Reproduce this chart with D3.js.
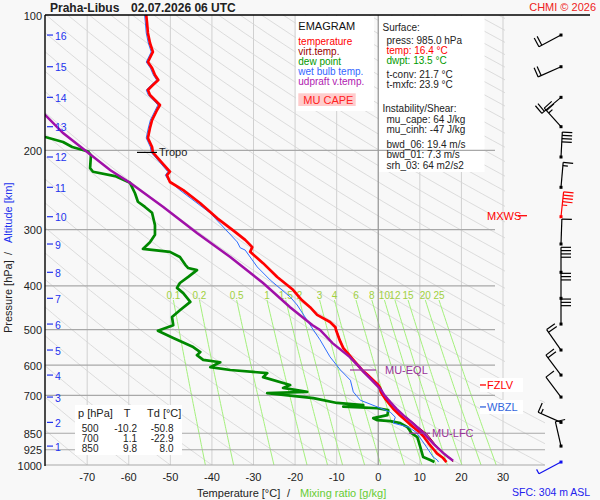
<!DOCTYPE html>
<html>
<head>
<meta charset="utf-8">
<script src="https://cdn.jsdelivr.net/npm/d3@7"></script>
<style>
body { margin: 0; background: #f8f8f8; }
svg { display: block; font-family: Arial, "Liberation Sans", sans-serif; }
</style>
</head>
<body>
<svg id="emagram" width="600" height="500"></svg>
<script>
// sounding Praha-Libus 02.07.2026 06 UTC
var tempP = [985, 965, 942, 925, 895, 862, 850, 822, 800, 775, 750, 736, 715, 700, 688, 675, 664, 648, 630, 615,
             600, 584, 565, 550, 530, 509, 500, 494, 481, 464, 446, 428, 408, 382, 356, 336, 328, 316, 301, 283,
             262, 245, 235, 227, 223, 212, 202, 196.5, 187.7, 178.3, 171.2, 162.6, 158.5, 154.5, 150.6, 146.8, 143.1, 139.5, 135.9, 131.2,
             127.2, 120.8, 115.4, 109.6, 104.2, 100];
var tempT = [16.4, 15.6, 14.1, 13.4, 12.1, 10.8, 10.2, 8.3, 6.9, 5.2, 3.6, 2.9, 1.8, 1.1, 0.6, 0.4, 0.0, -1.2, -2.6, -3.9,
             -4.9, -6.0, -7.3, -8.4, -9.2, -9.9, -10.2, -10.3, -11.6, -14.7, -16.4, -18.6, -20.5, -24.3, -27.7, -30.8, -30.3, -32.0, -34.9, -38.7,
             -42.8, -46.9, -50.1, -50.8, -50.1, -52.2, -54.2, -54.4, -55.4, -54.9, -54.4, -53.2, -52.5, -53.7, -54.9, -55.4, -54.2, -52.9, -53.7, -54.4,
             -55.4, -54.2, -54.9, -55.4, -55.6, -55.8];

var virtP = [985, 965, 942, 925, 895, 862, 850, 822, 800, 775, 750, 736, 715, 700, 688, 675, 664, 648, 630, 615,
             600, 584, 565, 550, 530, 509, 500, 494, 481, 464, 446, 428, 408];
var virtT = [18.0, 17.4, 15.6, 14.8, 13.5, 12.1, 11.5, 9.5, 8.0, 6.1, 4.4, 3.6, 2.4, 1.6, 1.0, 0.7, 0.2, -1.0, -2.4, -3.8,
             -4.8, -5.9, -7.2, -8.3, -9.1, -9.8, -10.1, -10.2, -11.5, -14.6, -16.3, -18.5, -20.4];

var dewP = [985, 975, 960, 912, 867, 850, 836, 824, 807, 799, 795, 787, 775, 755, 748, 745, 742, 736, 728, 710,
            692, 688, 674, 664, 638, 625, 615, 606, 591, 584, 570, 561, 547, 522, 503, 489, 469, 453, 434, 415,
            404, 394, 382, 369, 365, 359, 345, 336, 331, 320, 308, 293, 275, 267, 260, 249, 236, 228, 223, 219,
            205, 201, 196.5, 191.5, 186.7, 180];
var dewT = [13.5, 12.5, 10.8, 10.1, 9.4, 8.0, 7.5, 7.0, 5.3, 2.9, -0.2, -1.2, 2.2, 2.4, -0.2, -4.3, -8.4, -3.6, -9.9, -15.6,
            -26.7, -17.1, -22.9, -21.2, -27.7, -26.7, -35.6, -40.4, -38.0, -42.1, -43.6, -42.8, -44.5, -49.3, -53.0, -49.3, -49.6, -47.7, -45.2, -46.9,
            -48.4, -47.7, -45.7, -43.6, -45.7, -46.4, -47.7, -50.1, -56.6, -54.9, -53.7, -53.7, -54.4, -56.1, -57.8, -58.5, -59.7, -63.3, -68.6, -69.3,
            -69.1, -69.8, -73.6, -75.8, -80.1, -85];

var wetP = [985, 975, 960, 912, 847, 824, 807, 783, 763, 743, 718, 688, 648, 615, 575, 527, 501, 441, 423, 388,
            363, 333, 329, 319.5, 275.5, 245, 232.7, 227, 223, 202, 196.5, 187.7, 178.3, 171.2, 162.6, 158.5, 154.5, 150.6, 146.8, 143.1,
            139.5, 135.9, 131.2, 127.2, 120.8, 115.4, 109.6, 104.2, 100];
var wetT = [14.5, 14.2, 13.2, 11.6, 9.2, 7.3, 3.6, 4.1, 2.9, -0.2, -4.3, -6.0, -6.7, -9.1, -11.6, -14.0, -15.6, -19.5, -21.2, -26.0,
            -29.1, -32.0, -33.2, -33.9, -40.4, -47.7, -50.5, -51.2, -50.6, -54.6, -54.8, -55.8, -55.3, -54.8, -53.6, -53.0, -54.1, -55.3, -55.8, -54.6,
            -53.3, -54.1, -54.8, -55.8, -54.6, -55.3, -55.8, -56.0, -56.2];

// most unstable parcel (updraft virtual temperature)
var parcelP = [978, 960, 940, 900, 867, 850, 820, 800, 775, 750, 725, 700, 681, 660, 640, 620, 606, 575, 536, 501,
               489, 446, 394, 345, 305, 267, 236, 221, 201.6, 183, 166.8, 160];
var parcelT = [18.0, 16.8, 15.6, 13.4, 11.8, 10.9, 9.1, 7.8, 6.0, 4.4, 2.9, 1.5, 0.7, -0.7, -2.1, -3.6, -4.5, -6.9, -11.0, -14.0,
               -15.8, -21.2, -27.7, -35.6, -43.6, -51.7, -59.7, -64.5, -70.0, -75.8, -80.1, -83];

var isobars = [200, 300, 400, 500, 600, 700, 850, 925, 1000];
var pressureLabels = [100, 200, 300, 400, 500, 600, 700, 850, 925, 1000];
var tempTicks = [-70, -60, -50, -40, -30, -20, -10, 0, 10, 20, 30];
var mixRatios = [0.1, 0.2, 0.5, 1, 1.5, 2, 3, 4, 6, 8, 10, 12, 15, 20, 25];

// altitude marks (km) and their pressure, winds are given at the same levels
var altKm = [16, 15, 14, 13, 12, 11, 10, 9, 8, 7, 6, 5, 4, 3, 2, 1];
var altP = [110.8, 130.3, 152.4, 177.1, 206.8, 241.5, 280.7, 322.8, 373.1, 426.2, 486.2, 555.3, 631.2, 706.4, 804.1, 907.8];
var windDir = [242, 246, 230, 318, 3, 5, 6, 2, 0, 0, 0, 325, 323, 323, 294, 347];
var windSpd = [20, 20, 20, 25, 40, 15, 45, 10, 40, 30, 30, 20, 20, 10, 15, 10];
var maxWindKm = 10;
var sfcP = 985, sfcDir = 242, sfcSpd = 5;

var tropoP = 202, eqlP = 615, lfcP = 850, fzlvP = 664, wbzlP = 743;

var tableP = ["500", "700", "850"];
var tableT = ["-10.2", "1.1", "9.8"];
var tableTd = ["-50.8", "-22.9", "8.0"];

var surfaceLines = [
    {t: "Surface:", dx: 0, y: 30.7, c: "#222"},
    {t: "press: 985.0 hPa", dx: 4, y: 43.5, c: "#222"},
    {t: "temp: 16.4 °C", dx: 4, y: 53.5, c: "#ff0000"},
    {t: "dwpt: 13.5 °C", dx: 4, y: 63.5, c: "#009900"},
    {t: "t-conv: 21.7 °C", dx: 4, y: 77.5, c: "#222"},
    {t: "t-mxfc: 23.9 °C", dx: 4, y: 87.7, c: "#222"},
    {t: "Instability/Shear:", dx: 0, y: 111.7, c: "#222"},
    {t: "mu_cape: 64 J/kg", dx: 4, y: 123.3, c: "#222"},
    {t: "mu_cinh: -47 J/kg", dx: 4, y: 133.3, c: "#222"},
    {t: "bwd_06: 19.4 m/s", dx: 4, y: 148, c: "#222"},
    {t: "bwd_01: 7.3 m/s", dx: 4, y: 158, c: "#222"},
    {t: "srh_03: 64 m2/s2", dx: 4, y: 168.5, c: "#222"}
];
var legendItems = [
    {t: "temperature", c: "#ff0000"},
    {t: "virt.temp.", c: "#990000"},
    {t: "dew point", c: "#009900"},
    {t: "wet bulb temp.", c: "#3366ff"},
    {t: "udpraft v.temp.", c: "#b020b0"}
];

var svg = d3.select("#emagram");
var x = d3.scaleLinear().domain([-80, 30]).range([45.6, 503]);
var y = d3.scaleLog().domain([100, 1000]).range([15, 465]);

function pairs(P, V) {
    return P.map(function(p, i) { return [p, V[i]]; });
}
function interpAt(P, V, p) {
    for (var i = 0; i < P.length - 1; i++) {
        if (P[i] >= p && P[i + 1] <= p) {
            var f = (Math.log(P[i]) - Math.log(p)) / (Math.log(P[i]) - Math.log(P[i + 1]));
            return V[i] + f * (V[i + 1] - V[i]);
        }
    }
    return V[V.length - 1];
}
function mixT(w, p) {
    var e = w * p / (622 + w), l = Math.log(e / 6.112);
    return 243.5 * l / (17.67 - l);
}

var line = d3.line()
    .x(function(d) { return x(d[1]); })
    .y(function(d) { return y(d[0]); });

var defs = svg.append("defs");
defs.append("clipPath").attr("id", "plotClip")
    .append("rect").attr("x", 45).attr("y", 15).attr("width", 460).attr("height", 450);
var gridClip = defs.append("clipPath").attr("id", "gridClip");
gridClip.append("rect").attr("x", 45).attr("y", 15).attr("width", 460).attr("height", 450);
gridClip.append("rect").attr("x", 505).attr("y", 400).attr("width", 40).attr("height", 65);

svg.append("rect").attr("width", 600).attr("height", 500).attr("fill", "#f8f8f8");

// background grid: isotherms, dry adiabats, mixing ratio
var grid = svg.append("g").attr("clip-path", "url(#gridClip)");

grid.selectAll(".isotherm")
    .data(tempTicks.filter(function(t) { return t !== 0; }))
    .enter().append("line")
    .attr("x1", function(d) { return x(d); })
    .attr("x2", function(d) { return x(d); })
    .attr("y1", 15).attr("y2", 465)
    .attr("stroke", "#d0d0d0").attr("stroke-width", 1);

var pLevels = d3.range(100, 1001, 10);
grid.selectAll(".adiabat")
    .data(d3.range(-80, 331, 10))
    .enter().append("path")
    .attr("d", function(th) {
        return line(pLevels.map(function(p) {
            return [p, (th + 273.15) * Math.pow(p / 1000, 0.2857) - 273.15];
        }));
    })
    .attr("fill", "none").attr("stroke", "#d4d4d4").attr("stroke-width", 0.8);

var mixLevels = d3.range(430, 1001, 10);
grid.selectAll(".mixing")
    .data(mixRatios)
    .enter().append("path")
    .attr("d", function(w) {
        return line(mixLevels.map(function(p) { return [p, mixT(w, p)]; }));
    })
    .attr("fill", "none").attr("stroke", "#a4f07c").attr("stroke-width", 1);

svg.selectAll(".mixlabel")
    .data(mixRatios)
    .enter().append("text")
    .attr("x", function(w) { return x(mixT(w, 430)); })
    .attr("y", 298.7)
    .attr("text-anchor", "middle")
    .attr("font-size", "10px")
    .attr("fill", "#a0d040")
    .text(function(w) { return w; });

// info boxes
svg.append("rect").attr("x", 296).attr("y", 16).attr("width", 78).attr("height", 95).attr("fill", "#ffffff");
svg.append("rect").attr("x", 378.5).attr("y", 16).attr("width", 106).attr("height", 156).attr("fill", "#ffffff");

// isobars
svg.selectAll(".isobar")
    .data(isobars)
    .enter().append("line")
    .attr("x1", 45)
    .attr("x2", function(d) { return d >= 850 ? 545 : 495; })
    .attr("y1", function(d) { return y(d); })
    .attr("y2", function(d) { return y(d); })
    .attr("stroke", "#a8a8a8").attr("stroke-width", 1.2);

svg.append("line")
    .attr("x1", x(0)).attr("x2", x(0)).attr("y1", 15).attr("y2", 465)
    .attr("stroke", "#999").attr("stroke-width", 1.3);

// table box
var table = svg.append("g");
table.append("rect").attr("x", 75).attr("y", 405).attr("width", 107).attr("height", 50).attr("fill", "#ffffff");
table.append("text").attr("x", 78).attr("y", 417.3).attr("font-size", "11px").attr("fill", "#222").text("p [hPa]");
table.append("text").attr("x", 127).attr("y", 417.3).attr("font-size", "11px").attr("fill", "#222").attr("text-anchor", "middle").text("T");
table.append("text").attr("x", 147).attr("y", 417.3).attr("font-size", "11px").attr("fill", "#222").text("Td [°C]");
tableP.forEach(function(p, i) {
    var ty = 431.7 + i * 10;
    table.append("text").attr("x", 98.5).attr("y", ty).attr("text-anchor", "end").attr("font-size", "10px").attr("fill", "#222").text(p);
    table.append("text").attr("x", 137).attr("y", ty).attr("text-anchor", "end").attr("font-size", "10px").attr("fill", "#222").text(tableT[i]);
    table.append("text").attr("x", 173.5).attr("y", ty).attr("text-anchor", "end").attr("font-size", "10px").attr("fill", "#222").text(tableTd[i]);
});

// curves
var curves = svg.append("g").attr("clip-path", "url(#plotClip)");

// MU CAPE area between parcel and environment
var capeLevels = d3.range(lfcP, eqlP - 1, -3);
var area = d3.area()
    .y(function(p) { return y(p); })
    .x0(function(p) { return x(interpAt(tempP, tempT, p)); })
    .x1(function(p) { return x(Math.max(interpAt(tempP, tempT, p), interpAt(parcelP, parcelT, p))); });
curves.append("path").attr("d", area(capeLevels)).attr("fill", "#f4b8a8").attr("opacity", 0.7);

curves.append("path").attr("d", line(pairs(virtP, virtT)))
    .attr("fill", "none").attr("stroke", "#990000").attr("stroke-width", 1);
curves.append("path").attr("d", line(pairs(dewP, dewT)))
    .attr("fill", "none").attr("stroke", "#008800").attr("stroke-width", 2.7).attr("stroke-linejoin", "round");
curves.append("path").attr("d", line(pairs(wetP, wetT)))
    .attr("fill", "none").attr("stroke", "#2f6fff").attr("stroke-width", 1);
curves.append("path").attr("d", line(pairs(tempP, tempT)))
    .attr("fill", "none").attr("stroke", "#ff0000").attr("stroke-width", 2.7).attr("stroke-linejoin", "round");
curves.append("path").attr("d", line(pairs(parcelP, parcelT)))
    .attr("fill", "none").attr("stroke", "#a010a8").attr("stroke-width", 2.5);

// level markers
svg.append("line").attr("x1", 137).attr("x2", 157).attr("y1", y(tropoP)).attr("y2", y(tropoP))
    .attr("stroke", "#000").attr("stroke-width", 1.2);
svg.append("text").attr("x", 159).attr("y", y(tropoP) + 4).attr("font-size", "11px").attr("fill", "#222").text("Tropo");

svg.append("line").attr("x1", 350).attr("x2", 376).attr("y1", y(eqlP)).attr("y2", y(eqlP))
    .attr("stroke", "#993399").attr("stroke-width", 1.2);
svg.append("text").attr("x", 385).attr("y", y(eqlP) + 4).attr("font-size", "11px").attr("fill", "#993399").text("MU-EQL");
svg.append("line").attr("x1", 409).attr("x2", 430).attr("y1", y(lfcP)).attr("y2", y(lfcP))
    .attr("stroke", "#993399").attr("stroke-width", 1.2);
svg.append("text").attr("x", 432).attr("y", y(lfcP) + 4).attr("font-size", "11px").attr("fill", "#993399").text("MU-LFC");

[{p: fzlvP, t: "FZLV", c: "#ff0000"}, {p: wbzlP, t: "WBZL", c: "#3366dd"}].forEach(function(m) {
    var my = y(m.p);
    svg.append("rect").attr("x", 480).attr("y", my - 7).attr("width", 43).attr("height", 14).attr("fill", "#ffffff");
    svg.append("line").attr("x1", 480).attr("x2", 486).attr("y1", my).attr("y2", my).attr("stroke", m.c).attr("stroke-width", 1.3);
    svg.append("text").attr("x", 487).attr("y", my + 4).attr("font-size", "11px").attr("fill", m.c).text(m.t);
});

var mxY = y(altP[altKm.indexOf(maxWindKm)]);
svg.append("text").attr("x", 487).attr("y", mxY + 3).attr("font-size", "11px").attr("fill", "#ff0000").text("MXWS");
svg.append("line").attr("x1", 518).attr("x2", 527).attr("y1", mxY - 1).attr("y2", mxY - 1).attr("stroke", "#ff0000").attr("stroke-width", 1.3);

// frame
svg.append("line").attr("x1", 45).attr("x2", 590).attr("y1", 15).attr("y2", 15).attr("stroke", "#000").attr("stroke-width", 1.4);
svg.append("line").attr("x1", 45).attr("x2", 45).attr("y1", 15).attr("y2", 466).attr("stroke", "#000").attr("stroke-width", 1.4);

// axes labels
svg.selectAll(".plabel")
    .data(pressureLabels)
    .enter().append("text")
    .attr("x", 42).attr("y", function(d) { return y(d) + 4.5; })
    .attr("text-anchor", "end").attr("font-size", "11px").attr("fill", "#222")
    .text(function(d) { return d; });

svg.selectAll(".alttick")
    .data(altP)
    .enter().append("line")
    .attr("x1", 47).attr("x2", 53)
    .attr("y1", function(d) { return y(d); })
    .attr("y2", function(d) { return y(d); })
    .attr("stroke", "#2233ee").attr("stroke-width", 1.2);
svg.selectAll(".altlabel")
    .data(altKm)
    .enter().append("text")
    .attr("x", 55).attr("y", function(d, i) { return y(altP[i]) + 4.5; })
    .attr("font-size", "10.5px").attr("fill", "#2233ee")
    .text(function(d) { return d; });

svg.selectAll(".tlabel")
    .data(tempTicks)
    .enter().append("text")
    .attr("x", function(d) { return x(d); }).attr("y", 480.5)
    .attr("text-anchor", "middle").attr("font-size", "11px").attr("fill", "#222")
    .text(function(d) { return d; });

svg.append("text").attr("x", 197).attr("y", 497).attr("font-size", "11px").attr("fill", "#222").text("Temperature [°C]");
svg.append("text").attr("x", 287).attr("y", 497).attr("font-size", "11px").attr("fill", "#222").text("/");
svg.append("text").attr("x", 300).attr("y", 497).attr("font-size", "11px").attr("fill", "#66cc33").text("Mixing ratio [g/kg]");

svg.append("text").attr("transform", "translate(12,333) rotate(-90)").attr("font-size", "11px").attr("fill", "#222").text("Pressure [hPa]");
svg.append("text").attr("transform", "translate(12,255) rotate(-90)").attr("font-size", "11px").attr("fill", "#222").text("/");
svg.append("text").attr("transform", "translate(12,243) rotate(-90)").attr("font-size", "11px").attr("fill", "#2233ee").text("Altitude [km]");

// title
svg.append("text").attr("x", 50).attr("y", 11.7).attr("font-size", "12px").attr("font-weight", "bold").attr("fill", "#222").text("Praha-Libus");
svg.append("text").attr("x", 131).attr("y", 11.7).attr("font-size", "12px").attr("font-weight", "bold").attr("fill", "#222").text("02.07.2026 06 UTC");
svg.append("text").attr("x", 596).attr("y", 10.5).attr("text-anchor", "end").attr("font-size", "11px").attr("fill", "#ee2222").text("CHMI © 2026");
svg.append("text").attr("x", 512).attr("y", 495.5).attr("font-size", "10.5px").attr("fill", "#2222ee").text("SFC: 304 m ASL");

// legend
svg.append("text").attr("x", 298.3).attr("y", 30).attr("font-size", "11px").attr("fill", "#111").text("EMAGRAM");
legendItems.forEach(function(it, i) {
    svg.append("text").attr("x", 298.3).attr("y", 44.5 + i * 10).attr("font-size", "10px").attr("fill", it.c).text(it.t);
});
svg.append("rect").attr("x", 298.3).attr("y", 93.3).attr("width", 57.4).attr("height", 12.7).attr("fill", "#ffcccc");
svg.append("text").attr("x", 303.3).attr("y", 104).attr("font-size", "11px").attr("fill", "#ff2222").text("MU CAPE");

// surface / instability text
surfaceLines.forEach(function(l) {
    svg.append("text").attr("x", 382.5 + l.dx).attr("y", l.y).attr("font-size", "10px").attr("fill", l.c).text(l.t);
});

// wind barbs
var barbs = svg.append("g");
function drawBarb(p, dir, spd, color) {
    var bx = 561, by = y(p), L = 25;
    var a = dir * Math.PI / 180, ux = Math.sin(a), uy = -Math.cos(a);
    var ex = bx + L * ux, ey = by + L * uy;
    var px = -uy, py = ux;
    barbs.append("line").attr("x1", bx).attr("y1", by).attr("x2", ex).attr("y2", ey)
        .attr("stroke", color).attr("stroke-width", 1.2);
    var n10 = Math.floor(spd / 10), n5 = Math.round((spd - n10 * 10) / 5);
    var pos = 0, step = 3.3;
    for (var k = 0; k < n10; k++) {
        var sx = ex - ux * pos, sy = ey - uy * pos;
        barbs.append("line").attr("x1", sx).attr("y1", sy).attr("x2", sx + px * 10).attr("y2", sy + py * 10)
            .attr("stroke", color).attr("stroke-width", 1.2);
        pos += step;
    }
    if (n5 > 0) {
        var hx = ex - ux * pos, hy = ey - uy * pos;
        barbs.append("line").attr("x1", hx).attr("y1", hy).attr("x2", hx + px * 5).attr("y2", hy + py * 5)
            .attr("stroke", color).attr("stroke-width", 1.2);
    }
    barbs.append("rect").attr("x", bx - 1.5).attr("y", by - 1.5).attr("width", 3).attr("height", 3).attr("fill", color);
}
altP.forEach(function(p, i) {
    drawBarb(p, windDir[i], windSpd[i], altKm[i] === maxWindKm ? "#ff0000" : "#000000");
});
drawBarb(sfcP, sfcDir, sfcSpd, "#1111ee");
</script>
</body>
</html>
